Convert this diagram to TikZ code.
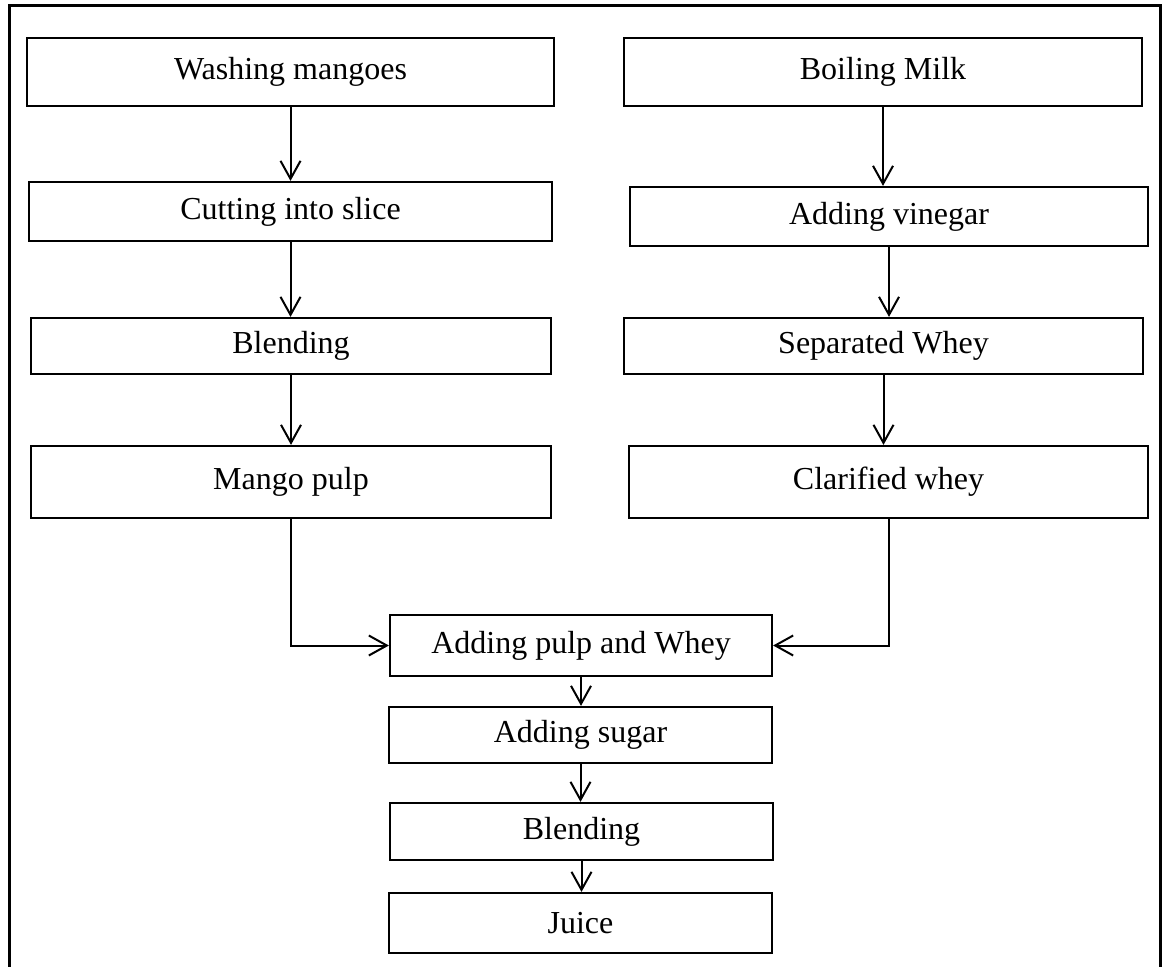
\documentclass[tikz,border=0pt]{standalone}
\usepackage{fontspec}
\setmainfont{Liberation Serif}
\usetikzlibrary{arrows.meta}

\begin{document}
\begin{tikzpicture}[x=0.5pt,y=-0.5pt,
  stepbox/.style={draw,line width=1.1pt,inner sep=0pt,font=\fontsize{16}{19}\selectfont},
  flow/.style={line width=1pt,-{Straight Barb[length=9pt,width=10pt,line width=1pt]}}]
  \useasboundingbox (0,0) rectangle (1165,967);
  \draw[line width=1.5pt] (9,967) -- (9,6) -- (1160,6) -- (1160,967);
  % mango side
  \node[stepbox,minimum width=263.5pt,minimum height=34pt] (wash) at (290.5,72) {Washing mangoes};
  \node[stepbox,minimum width=261.5pt,minimum height=29.5pt] (cut) at (290.5,211.5) {Cutting into slice};
  \node[stepbox,minimum width=260pt,minimum height=28pt] (blendA) at (291,346) {Blending};
  \node[stepbox,minimum width=260pt,minimum height=36pt] (pulp) at (291,482) {Mango pulp};
  % milk side
  \node[stepbox,minimum width=259pt,minimum height=34pt] (boil) at (883,72) {Boiling Milk};
  \node[stepbox,minimum width=259pt,minimum height=29.5pt] (vinegar) at (889,216.5) {Adding vinegar};
  \node[stepbox,minimum width=259.5pt,minimum height=28pt] (whey) at (883.5,346) {Separated Whey};
  \node[stepbox,minimum width=259.5pt,minimum height=36pt] (clear) at (888.5,482) {Clarified whey};
  % joint steps
  \node[stepbox,minimum width=191pt,minimum height=30.5pt] (mix) at (581,645.5) {Adding pulp and Whey};
  \node[stepbox,minimum width=191.5pt,minimum height=28pt] (sugar) at (580.5,735) {Adding sugar};
  \node[stepbox,minimum width=191.5pt,minimum height=28.5pt] (blendB) at (581.5,831.5) {Blending};
  \node[stepbox,minimum width=191.5pt,minimum height=30pt] (juice) at (580.5,923) {Juice};
  \foreach \a/\b in {wash/cut,cut/blendA,blendA/pulp,boil/vinegar,vinegar/whey,whey/clear,mix/sugar,sugar/blendB,blendB/juice}
    \draw[flow] (\a.south) -- (\a.south |- \b.north);
  \draw[flow] (pulp.south) |- (mix.west);
  \draw[flow] (clear.south) |- (mix.east);
\end{tikzpicture}
\end{document}
